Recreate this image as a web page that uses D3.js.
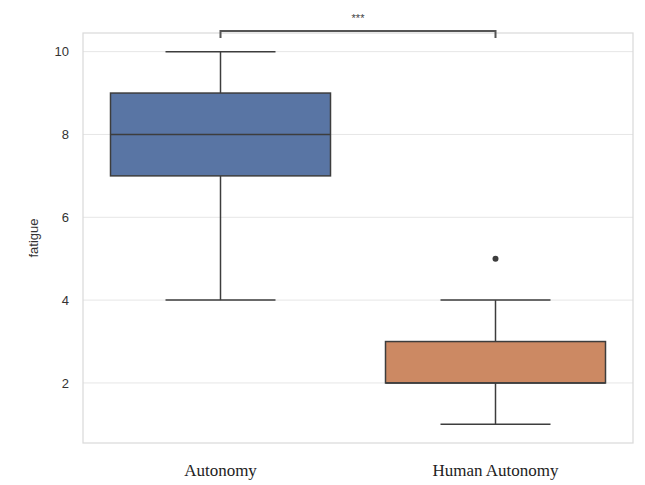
<!DOCTYPE html>
<html>
<head>
<meta charset="utf-8">
<script src="https://cdn.jsdelivr.net/npm/d3@7"></script>
<style>
  body { margin: 0; background: #fff; }
  svg { display: block; }
</style>
</head>
<body>
<script>
  // data
  var groups = ["Autonomy", "Human Autonomy"];
  var whiskLow = [4, 1];
  var q1 = [7, 2];
  var median = [8, 2];
  var q3 = [9, 3];
  var whiskHigh = [10, 4];
  var outliers = [[], [5]];
  var boxColors = ["#5975a4", "#cc8963"];
  var yTicks = [2, 4, 6, 8, 10];

  var W = 645, H = 485;
  var margin = {left: 83, right: 12, top: 33, bottom: 42};

  var svg = d3.select("body").append("svg")
    .attr("width", W)
    .attr("height", H);

  var x = d3.scaleBand().domain(groups)
    .range([margin.left, W - margin.right]);
  var y = d3.scaleLinear().domain([0.55, 10.45])
    .range([H - margin.bottom, margin.top]);

  // grid
  svg.append("g").selectAll("line").data(yTicks).enter()
    .append("line")
    .attr("x1", margin.left).attr("x2", W - margin.right)
    .attr("y1", function(d){ return y(d); })
    .attr("y2", function(d){ return y(d); })
    .attr("stroke", "#e6e6e6").attr("stroke-width", 1);

  // frame
  svg.append("rect")
    .attr("x", margin.left).attr("y", margin.top)
    .attr("width", W - margin.left - margin.right)
    .attr("height", H - margin.top - margin.bottom)
    .attr("fill", "none").attr("stroke", "#d9d9d9").attr("stroke-width", 1.2);

  // y axis
  var yAxis = svg.append("g")
    .attr("transform", "translate(" + margin.left + ",0)")
    .call(d3.axisLeft(y).tickValues(yTicks).tickSize(0).tickPadding(14));
  yAxis.select(".domain").remove();
  yAxis.selectAll("text")
    .attr("font-family", "Liberation Sans, Arial, sans-serif")
    .attr("font-size", 13).attr("fill", "#333");

  svg.append("text")
    .attr("transform", "translate(38," + y(5.5) + ") rotate(-90)")
    .attr("text-anchor", "middle")
    .attr("font-family", "Liberation Sans, Arial, sans-serif")
    .attr("font-size", 13).attr("fill", "#333")
    .text("fatigue");

  // x labels
  svg.append("g").selectAll("text").data(groups).enter()
    .append("text")
    .attr("x", function(d){ return x(d) + x.bandwidth() / 2; })
    .attr("y", 476)
    .attr("text-anchor", "middle")
    .attr("font-family", "Liberation Serif, Times New Roman, serif")
    .attr("font-size", 17).attr("fill", "#222")
    .text(function(d){ return d; });

  var lineCol = "#3d3d3d";
  var bw = x.bandwidth() * 0.8;
  var capW = bw / 2;

  groups.forEach(function(g, i){
    var cx = x(g) + x.bandwidth() / 2;
    var grp = svg.append("g");
    // whiskers
    grp.append("line")
      .attr("x1", cx).attr("x2", cx)
      .attr("y1", y(whiskHigh[i])).attr("y2", y(q3[i]))
      .attr("stroke", lineCol).attr("stroke-width", 1.5);
    grp.append("line")
      .attr("x1", cx).attr("x2", cx)
      .attr("y1", y(q1[i])).attr("y2", y(whiskLow[i]))
      .attr("stroke", lineCol).attr("stroke-width", 1.5);
    [whiskHigh[i], whiskLow[i]].forEach(function(v){
      grp.append("line")
        .attr("x1", cx - capW / 2).attr("x2", cx + capW / 2)
        .attr("y1", y(v)).attr("y2", y(v))
        .attr("stroke", lineCol).attr("stroke-width", 1.5);
    });
    // box
    grp.append("rect")
      .attr("x", cx - bw / 2).attr("width", bw)
      .attr("y", y(q3[i])).attr("height", y(q1[i]) - y(q3[i]))
      .attr("fill", boxColors[i])
      .attr("stroke", lineCol).attr("stroke-width", 1.5);
    grp.append("line")
      .attr("x1", cx - bw / 2).attr("x2", cx + bw / 2)
      .attr("y1", y(median[i])).attr("y2", y(median[i]))
      .attr("stroke", lineCol).attr("stroke-width", 1.5);
    grp.selectAll("circle.fl").data(outliers[i]).enter()
      .append("circle")
      .attr("cx", cx).attr("cy", function(d){ return y(d); })
      .attr("r", 3)
      .attr("fill", lineCol);
  });

  // significance bracket
  var x1 = x(groups[0]) + x.bandwidth() / 2;
  var x2 = x(groups[1]) + x.bandwidth() / 2;
  var by = 31;
  svg.append("path")
    .attr("d", "M" + x1 + "," + (by + 7) + "V" + by + "H" + x2 + "V" + (by + 7))
    .attr("fill", "none").attr("stroke", "#555").attr("stroke-width", 2);
  svg.append("text")
    .attr("x", (x1 + x2) / 2).attr("y", 22)
    .attr("text-anchor", "middle")
    .attr("font-family", "Liberation Sans, Arial, sans-serif")
    .attr("font-size", 11).attr("fill", "#444")
    .text("***");
</script>
</body>
</html>
